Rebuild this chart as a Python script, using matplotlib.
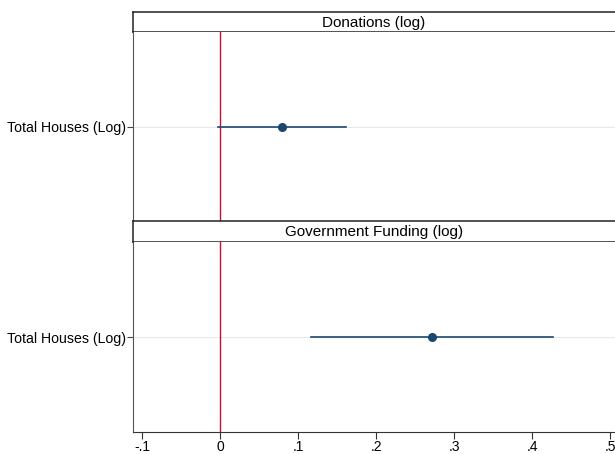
import matplotlib
matplotlib.use('Agg')
import matplotlib.pyplot as plt

plt.rcParams['font.family'] = ['Liberation Sans', 'DejaVu Sans']

panels = ['Donations (log)', 'Government Funding (log)']
coef_label = 'Total Houses (Log)'
estimates = [0.079, 0.271]
ci_low = [-0.002, 0.116]
ci_high = [0.162, 0.427]
xticks = [-0.1, 0, 0.1, 0.2, 0.3, 0.4, 0.5]
xticklabels = ['-.1', '0', '.1', '.2', '.3', '.4', '.5']

navy = '#1a476f'
W, H = 615, 454
fig = plt.figure(figsize=(W / 100, H / 100), dpi=100)

left = 133 / W
width = 1.01 - left
# pixel rows: (strip top, strip bottom, panel bottom)
rows = [(12, 32, 221.5), (221.5, 242, 432)]

for i, (name, est, lo, hi) in enumerate(zip(panels, estimates, ci_low, ci_high)):
    s_top, s_bot, p_bot = rows[i]
    strip = fig.add_axes([left, (H - s_bot) / H, width, (s_bot - s_top) / H])
    strip.set_xticks([])
    strip.set_yticks([])
    for sp in strip.spines.values():
        sp.set_color('#222222')
        sp.set_linewidth(1.1)
    strip.text(0.5 * (1.0 - left) / width, 0.47, name, ha='center', va='center',
               fontsize=11, transform=strip.transAxes)

    ax = fig.add_axes([left, (H - p_bot) / H, width, (p_bot - s_bot) / H])
    ax.set_xlim(-0.1115, 0.514)
    ax.set_ylim(0.5, 1.5)
    ax.axhline(1, color='#e8e8e8', lw=0.8, zorder=0)
    ax.axvline(0, color='#c8102e', lw=1.0, zorder=1)
    ax.plot([lo, hi], [1, 1], color=navy, lw=1.2, zorder=2)
    ax.plot([est], [1], 'o', color=navy, ms=5.5, zorder=3)
    ax.set_yticks([1])
    ax.set_yticklabels([coef_label], fontsize=10.2)
    ax.tick_params(axis='y', length=4, width=0.8, color='#444444', pad=1)
    for side in ['top', 'right']:
        ax.spines[side].set_visible(False)
    ax.spines['left'].set_color('#555555')
    if i == 0:
        ax.spines['bottom'].set_visible(False)
        ax.set_xticks([])
    else:
        ax.spines['bottom'].set_color('#333333')
        ax.set_xticks(xticks)
        ax.set_xticklabels(xticklabels, fontsize=10)
        ax.tick_params(axis='x', length=5, width=0.8, color='#333333', pad=0.5)

fig.savefig('out.png', dpi=100)
